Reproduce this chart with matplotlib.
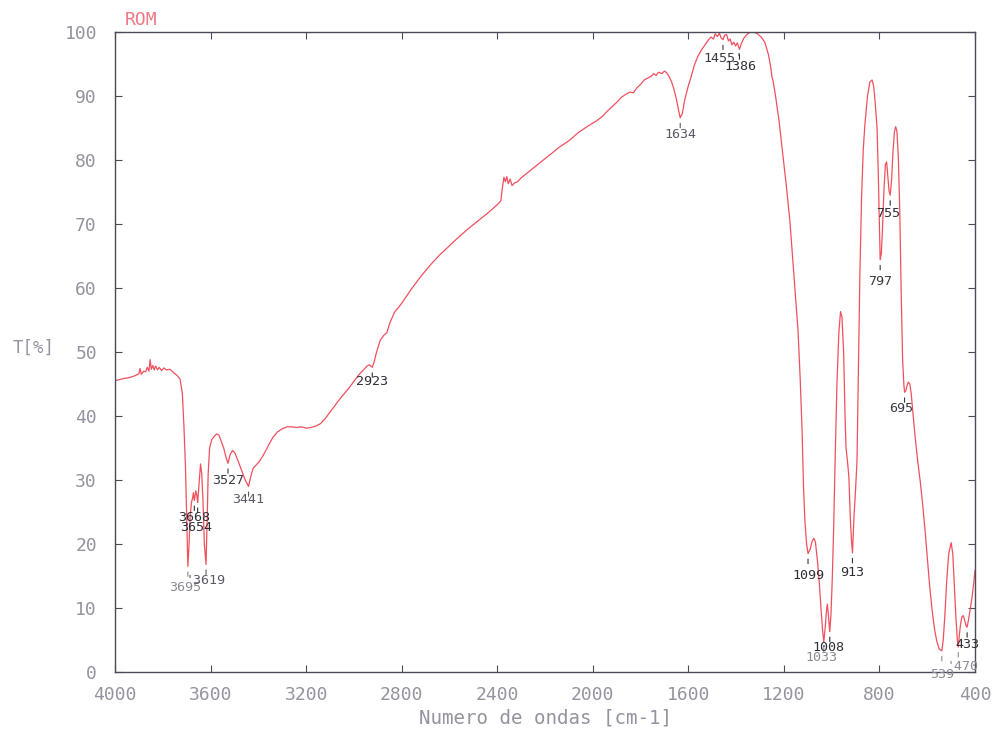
import matplotlib
matplotlib.use("Agg")
import matplotlib.pyplot as plt

# FTIR transmission spectrum, sample ROM
wavenumber = [
    4000, 3970, 3940, 3915, 3900, 3895, 3890, 3880, 3872, 3865, 3858, 3853,
    3848, 3842, 3836, 3830, 3822, 3815, 3805, 3795, 3785, 3770, 3755, 3740,
    3728, 3718, 3711, 3705, 3700, 3695, 3690, 3686, 3680, 3675, 3672, 3668,
    3662, 3657, 3654, 3648, 3642, 3637, 3632, 3626, 3619, 3614, 3610, 3604,
    3595, 3585, 3575, 3565, 3555, 3545, 3535, 3527, 3518, 3508, 3498, 3485,
    3470, 3455, 3441, 3432, 3422, 3410, 3398, 3385, 3370, 3355, 3340, 3320,
    3300, 3280, 3260, 3240, 3220, 3200, 3180, 3160, 3140, 3120, 3100, 3080,
    3060, 3040, 3020, 3000, 2980, 2960, 2945, 2935, 2923, 2915, 2905, 2890,
    2875, 2862, 2850, 2830, 2800, 2760, 2720, 2680, 2640, 2600, 2560, 2520,
    2480, 2440, 2400, 2385, 2378, 2372, 2366, 2360, 2354, 2346, 2338, 2328,
    2315, 2300, 2260, 2220, 2180, 2140, 2100, 2060, 2020, 1985, 1960, 1940,
    1920, 1900, 1880, 1860, 1845, 1830, 1815, 1800, 1785, 1770, 1755, 1745,
    1735, 1725, 1710, 1700, 1690, 1680, 1670, 1660, 1650, 1640, 1634, 1625,
    1615, 1600, 1590, 1575, 1560, 1545, 1530, 1515, 1505, 1495, 1488, 1478,
    1470, 1462, 1455, 1448, 1440, 1432, 1425, 1418, 1410, 1402, 1395, 1386,
    1378, 1368, 1355, 1340, 1325, 1310, 1295, 1280, 1265, 1255, 1250, 1245,
    1235, 1220, 1205, 1190, 1175, 1162, 1150, 1141, 1132, 1124, 1118, 1112,
    1105, 1099, 1090, 1082, 1075, 1068, 1060, 1052, 1044, 1038, 1033, 1027,
    1022, 1018, 1014, 1008, 1003, 998, 992, 985, 978, 970, 963, 957,
    950, 944, 940, 934, 928, 922, 917, 913, 907, 900, 894, 888,
    882, 875, 868, 861, 850, 840, 831, 824, 818, 810, 805, 801,
    797, 792, 787, 781, 775, 770, 765, 760, 755, 749, 743, 737,
    732, 727, 721, 715, 709, 703, 698, 695, 690, 685, 679, 673,
    667, 660, 650, 640, 630, 620, 610, 600, 590, 580, 570, 560,
    550, 539, 533, 526, 518, 510, 500, 493, 487, 480, 474, 470,
    465, 460, 455, 449, 443, 437, 433, 428, 420, 412, 405, 400,
]
transmittance = [
    45.5, 45.8, 46.0, 46.3, 46.6, 47.4, 46.5, 47.0, 46.9, 47.6, 47.0, 48.8,
    47.3, 47.9, 47.2, 47.8, 47.2, 47.6, 47.1, 47.5, 47.2, 47.3, 46.8, 46.3,
    45.8, 43.5, 38.0, 32.0, 24.0, 16.5, 20.0, 24.0, 26.5, 27.2, 28.0, 26.8,
    28.3, 27.5, 26.5, 29.5, 32.5, 31.0, 27.0, 20.0, 16.8, 24.0, 31.0, 35.0,
    36.3, 36.8, 37.2, 37.0, 36.0, 35.0, 33.5, 32.6, 34.0, 34.6, 34.2, 33.0,
    31.5, 30.0, 29.0, 30.5, 31.8, 32.3, 32.8, 33.5, 34.5, 35.6, 36.6, 37.5,
    38.0, 38.3, 38.3, 38.2, 38.3, 38.1, 38.2, 38.4, 38.8, 39.6, 40.6, 41.6,
    42.6, 43.5, 44.4, 45.4, 46.4, 47.2, 47.8, 48.0, 47.6, 48.5, 50.0, 51.8,
    52.6, 53.0, 54.5, 56.2, 57.6, 59.8, 61.8, 63.6, 65.2, 66.6, 68.0, 69.3,
    70.5, 71.7, 73.0, 73.6, 75.8, 77.3, 76.6, 77.4, 76.3, 77.0, 76.0, 76.4,
    76.6, 77.2, 78.4, 79.6, 80.8, 82.0, 83.0, 84.3, 85.3, 86.1, 86.8, 87.6,
    88.3, 89.0, 89.8, 90.3, 90.6, 90.5, 91.3, 91.8, 92.5, 92.8, 93.1, 93.5,
    93.2, 93.7, 93.5, 93.9, 93.6, 93.0, 92.2, 91.0, 89.5, 87.6, 86.6, 87.3,
    89.4, 91.6, 92.8, 94.8, 96.2, 97.2, 98.0, 98.8, 99.2, 98.9, 99.7, 99.3,
    99.8, 99.0, 98.8, 99.5, 99.6, 98.6, 98.9, 98.0, 98.4, 97.8, 98.3, 97.3,
    98.2, 99.0, 99.6, 100.0, 100.0, 99.7, 99.2, 98.4, 96.5, 94.5, 93.0, 92.3,
    90.0, 86.0, 81.0, 76.0, 70.5, 64.0, 58.0, 53.4, 46.0, 37.8, 29.0, 23.5,
    20.0, 18.5, 19.2, 20.4, 20.9, 20.3, 17.5, 14.0, 9.5, 6.5, 4.7, 7.0,
    9.5, 10.6, 9.0, 6.3, 9.0, 14.0, 22.0, 34.0, 45.0, 53.0, 56.3, 55.5,
    50.0, 40.0, 35.0, 33.0, 30.5, 24.0, 20.5, 18.6, 24.0, 28.5, 33.0, 48.0,
    62.0, 74.0, 81.5, 85.5, 90.0, 92.2, 92.5, 91.5, 89.0, 85.0, 78.0, 71.0,
    64.4, 65.5, 69.5, 75.5, 79.3, 79.7, 77.5, 75.2, 74.5, 77.0, 81.5, 84.5,
    85.2, 84.5, 80.5, 72.0, 59.2, 48.7, 45.0, 43.7, 43.9, 44.7, 45.3, 45.0,
    43.5, 40.5, 36.5, 33.0, 30.0, 26.5, 22.5, 18.0, 13.5, 9.8, 6.8, 4.8,
    3.6, 3.3, 5.0, 9.0, 14.5, 18.5, 20.2, 18.5, 14.0, 8.5, 5.0, 3.9,
    6.0, 7.6, 8.6, 8.8, 8.0, 7.2, 7.0, 8.0, 9.8, 11.8, 14.0, 15.9,
]

# picked bands: position, transmittance at the minimum
peak_wn = [3695, 3668, 3654, 3619, 3527, 3441, 2923, 1634, 1455, 1386,
           1099, 1033, 1008, 913, 797, 755, 695, 539, 470, 433]
peak_t = [16.5, 26.8, 26.5, 16.8, 32.6, 29.0, 47.6, 86.6, 98.8, 97.3,
          18.5, 4.7, 6.3, 18.6, 64.4, 74.5, 43.7, 3.3, 3.9, 7.0]
peak_text = ["3695", "3668", "3654", "'3619", "3527", "3441", "2923", "1634",
             "1455'", "1386", "1099", "1033", "1008", "913", "797", "755",
             "695", "539", "'470", "433"]

x_ticks = [4000, 3600, 3200, 2800, 2400, 2000, 1600, 1200, 800, 400]
y_ticks = [0, 10, 20, 30, 40, 50, 60, 70, 80, 90, 100]

# label placement (pixels below the band, sideways shift) and shade
lab_dy = [21, 17, 25, 16, 17, 13, 14, 17, 19, 17,
          22, 16, 16, 20, 22, 18, 16, 24, 19, 17]
lab_dx = [-3, 0, -2, -1, 0, 0, 0, 0, 0, 1,
          0, -2, -1, 0, 0, -2, -3, 0, 4, 0]
lab_col = ["#8a8a96", "#2e2e36", "#2e2e36", "#5a5a66", "#3a3a44", "#5a5a66",
           "#2e2e36", "#5a5a66", "#3a3a44", "#2e2e36", "#2e2e36", "#8a8a96",
           "#2e2e36", "#2e2e36", "#3a3a44", "#2e2e36", "#3a3a44", "#8a8a96",
           "#8a8a96", "#2e2e36"]

GRAY = "#9494a0"
FRAME = "#4a4a58"
RED = "#f0505e"
FONT = ["DejaVu Sans Mono"]

fig = plt.figure(figsize=(9.94, 7.30), dpi=100)
ax = fig.add_axes([0.1157, 0.0795, 0.8652, 0.8767])

ax.plot(wavenumber, transmittance, color=RED, lw=0.9)

for wn, t, txt, dy, dx, c in zip(peak_wn, peak_t, peak_text, lab_dy, lab_dx, lab_col):
    ax.annotate("", xy=(wn, t), xytext=(0, -10), textcoords="offset pixels",
                arrowprops=dict(arrowstyle="-", color=c, lw=0.8,
                                shrinkA=0, shrinkB=4))
    ax.annotate(txt, xy=(wn, t), xytext=(dx, -dy), textcoords="offset pixels",
                ha="center", va="center", fontsize=9.6, color=c,
                family=FONT)

ax.set_xlim(4000, 400)
ax.set_ylim(0, 100)
ax.set_xticks(x_ticks)
ax.set_yticks(y_ticks)
ax.tick_params(direction="in", length=5, width=0.8, color=FRAME,
               top=True, right=True, labelsize=13, labelcolor=GRAY)
ax.tick_params(axis="y", pad=13)
ax.tick_params(axis="x", pad=10)
for lab in ax.get_xticklabels() + ax.get_yticklabels():
    lab.set_family(FONT)
for sp in ax.spines.values():
    sp.set_color(FRAME)
    sp.set_linewidth(1.0)

ax.set_xlabel("Numero de ondas [cm-1]", fontsize=13.8, color=GRAY,
              family=FONT, labelpad=3)
fig.text(0.034, 0.523, "T[%]", fontsize=12.5, color=GRAY, family=FONT,
         ha="center", va="center")
fig.text(0.126, 0.972, "ROM", fontsize=13, color="#f07888", family=FONT,
         ha="left", va="center")

fig.savefig("out.png", dpi=100)
